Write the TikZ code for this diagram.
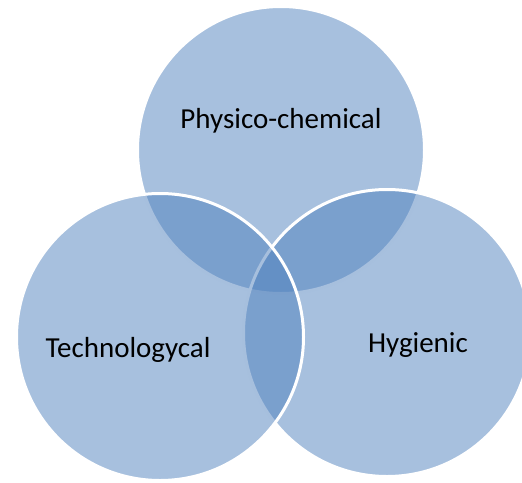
\documentclass[tikz,border=0pt]{standalone}
\usepackage{fontspec}
\setmainfont{Carlito}
\definecolor{accent}{HTML}{4F81BD}

\begin{document}
\begin{tikzpicture}[x=1pt, y=-1pt,
    zone/.style ={circle, minimum size=287pt, inner sep=0pt, fill=accent, fill opacity=0.5, draw=white, line width=3pt},
    caption/.style ={font=\fontsize{29}{34}\selectfont, text=black}]
   \useasboundingbox (0,0) rectangle (522,482);
   \clip (0,0) rectangle (522,482);

   \node[zone] (P) at (281,150)  {};
   \node[zone] (H) at (387,333)  {};
   \node[zone] (T) at (160,337)  {};

   \node[caption] (Plabel) at (281,121) {Physico-chemical};
   \node[caption] (Tlabel) at (128,350) {Technologycal};
   \node[caption] (Hlabel) at (418,345) {Hygienic};
 \end{tikzpicture}
\end{document}
